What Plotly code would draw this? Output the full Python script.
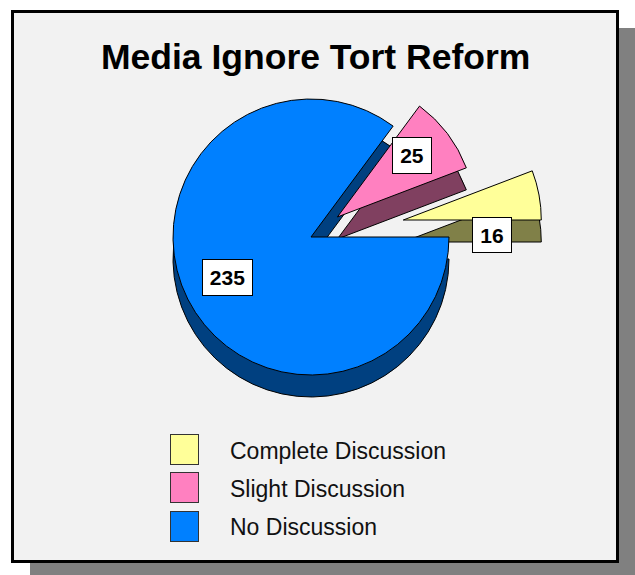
import plotly.graph_objects as go

# ---- data ----
categories = ["Complete Discussion", "Slight Discussion", "No Discussion"]
values = [16, 25, 235]
colors = ["#FFFF99", "#FF80C0", "#0080FF"]
side_colors = ["#808048", "#804060", "#004080"]
pulls = [0.68, 0.24, 0.0]
title_text = "Media Ignore Tort Reform"

W, H = 635, 575
FONT = "Liberation Sans, Arial, sans-serif"


def px_x(x):
    return x / W


def px_y(y):
    return 1 - y / H


# pie geometry (pixels)
cx, cy, r, depth = 311, 237, 138, 22
half = r * (1 + max(pulls))
# first slice should start at 3 o'clock, going counter-clockwise
rot = 90 - 360.0 * values[0] / sum(values)

fig = go.Figure()

# side (depth) layer
fig.add_trace(go.Pie(
    labels=categories, values=values, sort=False, direction="counterclockwise",
    rotation=rot, pull=pulls, textinfo="none", hoverinfo="skip",
    marker=dict(colors=side_colors, line=dict(color="black", width=1)),
    domain=dict(x=[px_x(cx - half), px_x(cx + half)],
                y=[px_y(cy + depth + half), px_y(cy + depth - half)]),
    showlegend=False,
))
# top faces
fig.add_trace(go.Pie(
    labels=categories, values=values, sort=False, direction="counterclockwise",
    rotation=rot, pull=pulls, textinfo="none",
    marker=dict(colors=colors, line=dict(color="black", width=1)),
    domain=dict(x=[px_x(cx - half), px_x(cx + half)],
                y=[px_y(cy + half), px_y(cy - half)]),
    showlegend=False,
))

shapes = [
    dict(type="rect", xref="paper", yref="paper", layer="below",
         x0=px_x(30), x1=px_x(635), y0=px_y(575), y1=px_y(28),
         fillcolor="#808080", line=dict(width=0)),
    dict(type="rect", xref="paper", yref="paper", layer="below",
         x0=px_x(12.5), x1=px_x(617.5), y0=px_y(561.5), y1=px_y(11.5),
         fillcolor="#F2F2F2", line=dict(color="black", width=3)),
]

annotations = [
    dict(text="<b>" + title_text + "</b>", x=px_x(315), y=px_y(57),
         xref="paper", yref="paper", showarrow=False,
         xanchor="center", yanchor="middle",
         font=dict(family=FONT, size=35.5, color="black")),
]

# value labels (white boxes)
label_pos = [(492, 235, 38, 34), (412, 155, 38, 35), (227, 278, 49, 35)]
for v, (lx, ly, bw, bh) in zip(values, label_pos):
    annotations.append(dict(
        text="<b>" + str(v) + "</b>", x=px_x(lx), y=px_y(ly),
        xref="paper", yref="paper", showarrow=False,
        xanchor="center", yanchor="middle",
        font=dict(family=FONT, size=21, color="black"),
        bgcolor="white", bordercolor="black", borderwidth=1, borderpad=0,
        width=bw, height=bh, align="center", valign="middle"))

# legend (manual)
for i, (cat, col) in enumerate(zip(categories, colors)):
    ycen = 449.5 + i * 38.3
    annotations.append(dict(
        text=" ", x=px_x(184), y=px_y(ycen), xref="paper", yref="paper",
        xanchor="center", yanchor="middle",
        showarrow=False, bgcolor=col, bordercolor="#333333", borderwidth=1,
        borderpad=0, width=27, height=29, font=dict(size=10)))
    annotations.append(dict(
        text=cat, x=px_x(228), y=px_y(ycen + 1), xref="paper", yref="paper",
        xanchor="left", yanchor="middle", showarrow=False,
        font=dict(family=FONT, size=23, color="#111111")))

fig.update_layout(
    width=W, height=H, margin=dict(l=0, r=0, t=0, b=0),
    paper_bgcolor="white", plot_bgcolor="white",
    shapes=shapes, annotations=annotations, showlegend=False,
)

fig.write_html("out.html")
